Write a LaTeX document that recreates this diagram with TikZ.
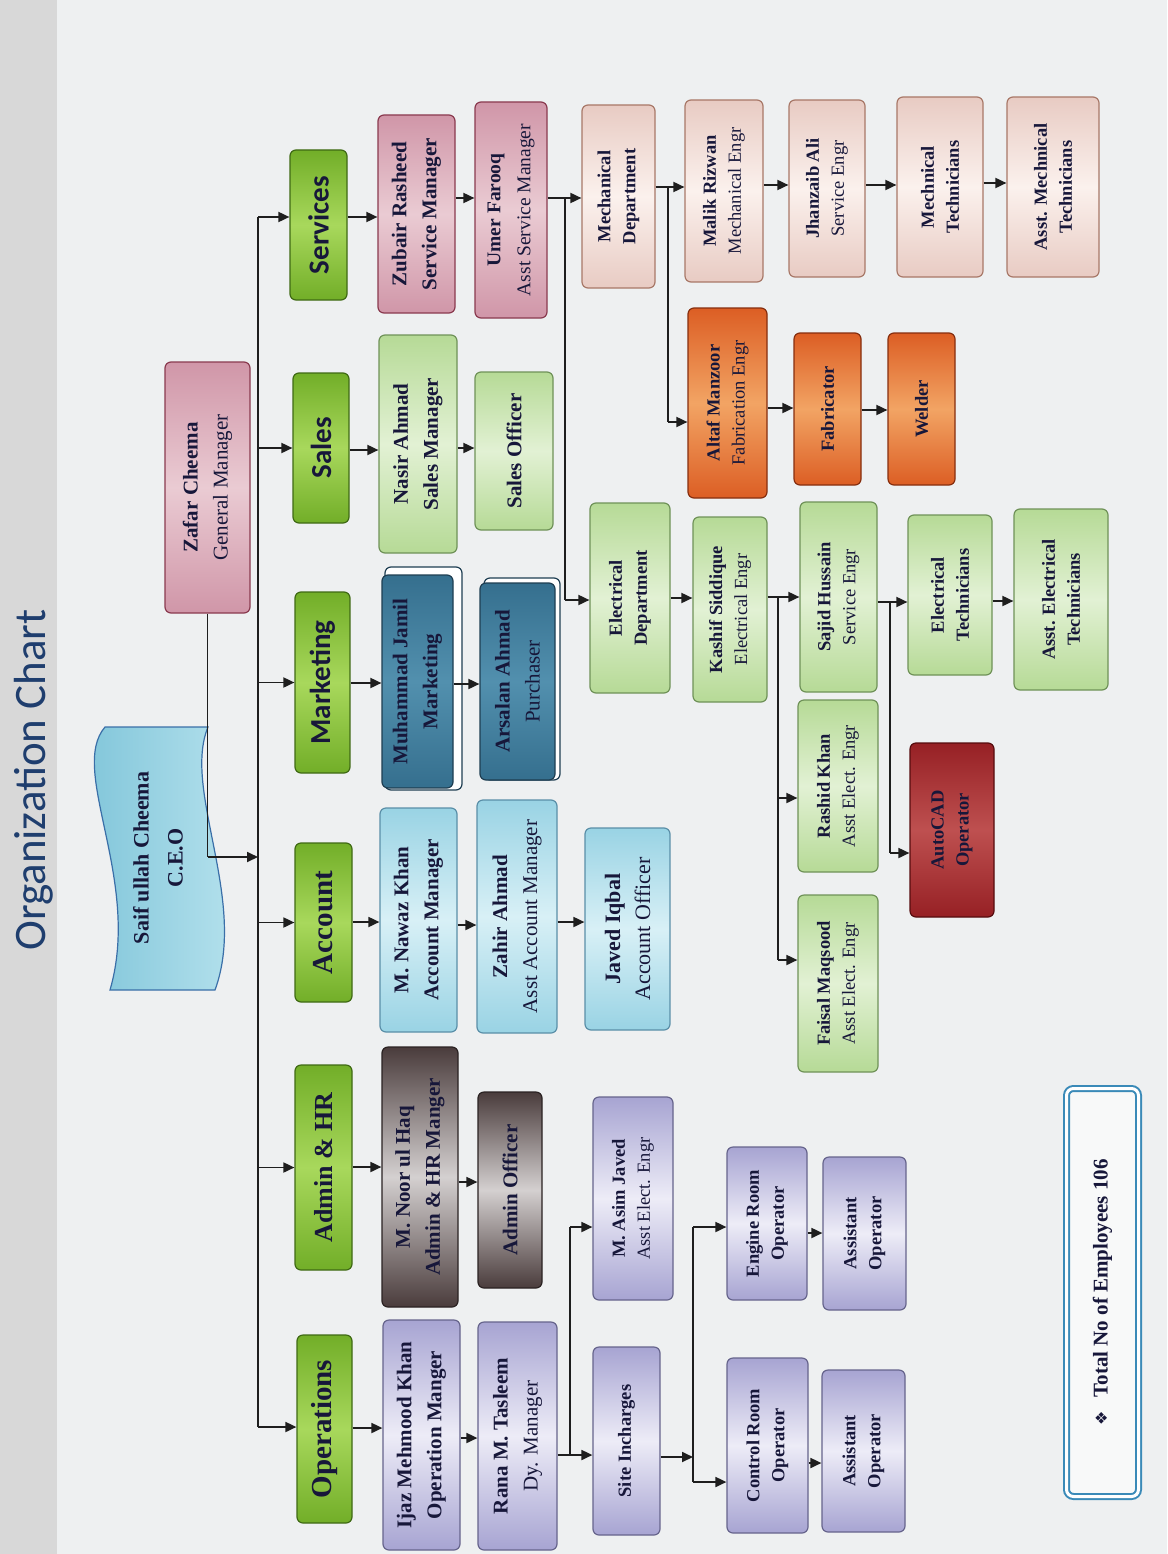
\documentclass[tikz,border=0pt]{standalone}
\usepackage{fontspec}
\setmainfont{Liberation Serif}
\newfontfamily\carl{Carlito}
\newfontfamily\dejav{DejaVu Sans}
\usetikzlibrary{arrows.meta,calc}
\definecolor{txt}{HTML}{17173A}
\definecolor{lineC}{HTML}{1E1E1E}
\definecolor{bgC}{HTML}{EEF0F1}
\definecolor{stripC}{HTML}{D8D8D8}
\definecolor{titleC}{HTML}{1F3E6E}
\definecolor{pinkA}{HTML}{D096A8}\definecolor{pinkB}{HTML}{EACBD3}\definecolor{pinkD}{HTML}{8A3A4F}
\definecolor{gA}{HTML}{72AE28}\definecolor{gB}{HTML}{A8D85C}\definecolor{gD}{HTML}{3F6A14}
\definecolor{lgA}{HTML}{B6DA96}\definecolor{lgB}{HTML}{E2F1D4}\definecolor{lgD}{HTML}{6F9258}
\definecolor{tA}{HTML}{356F8E}\definecolor{tB}{HTML}{5290AE}\definecolor{tD}{HTML}{1E3E52}
\definecolor{lbA}{HTML}{99D3E4}\definecolor{lbB}{HTML}{D8F0F6}\definecolor{lbD}{HTML}{5A8FA8}
\definecolor{mA}{HTML}{4A3C3C}\definecolor{mB}{HTML}{D4D0D0}\definecolor{mD}{HTML}{2A2222}
\definecolor{lvA}{HTML}{A7A4D2}\definecolor{lvB}{HTML}{EDECF7}\definecolor{lvD}{HTML}{66648C}
\definecolor{pA}{HTML}{E8CBC3}\definecolor{pB}{HTML}{FBF1ED}\definecolor{pD}{HTML}{A87868}
\definecolor{oA}{HTML}{DC5E24}\definecolor{oB}{HTML}{F2A464}\definecolor{oD}{HTML}{862E0E}
\definecolor{rA}{HTML}{962024}\definecolor{rB}{HTML}{BE5050}\definecolor{rD}{HTML}{560C0E}
\definecolor{ceoA}{HTML}{7CC3D8}\definecolor{ceoB}{HTML}{B8E3EE}\definecolor{ceoD}{HTML}{3A6FA8}
\definecolor{totC}{HTML}{3A8AB8}
\tikzset{
  box/.style={rotate=90, rounded corners=6pt, align=center, inner sep=1pt, text=txt, line width=1.2pt,
    font=\fontsize{21}{30}\selectfont},
  small/.style={font=\fontsize{18.5}{25}\selectfont},
  pinkS/.style={draw=pinkD, top color=pinkA, bottom color=pinkA, middle color=pinkB},
  deptS/.style={draw=gD, top color=gA, bottom color=gA, middle color=gB},
  lgS/.style={draw=lgD, top color=lgA, bottom color=lgA, middle color=lgB},
  tealS/.style={draw=tD, top color=tA, bottom color=tA, middle color=tB},
  lbS/.style={draw=lbD, top color=lbA, bottom color=lbA, middle color=lbB},
  metS/.style={draw=mD, top color=mA, bottom color=mA, middle color=mB},
  lavS/.style={draw=lvD, top color=lvA, bottom color=lvA, middle color=lvB},
  peachS/.style={draw=pD, top color=pA, bottom color=pA, middle color=pB},
  orS/.style={draw=oD, top color=oA, bottom color=oA, middle color=oB},
  redS/.style={draw=rD, top color=rA, bottom color=rA, middle color=rB},
  sansdept/.style={font=\carl\bfseries\fontsize{29}{32}\selectfont},
  serifdept/.style={font=\bfseries\fontsize{29}{32}\selectfont},
  ln/.style={line width=1.8pt, draw=lineC},
  arr/.style={ln, -{Triangle[length=11pt,width=10pt]}},
}
% name, x1, y1, x2, y2, style, text
\newcommand\bx[7]{%
  \pgfmathsetmacro\bxcx{(#2+#4)/2}\pgfmathsetmacro\bxcy{(#3+#5)/2}%
  \pgfmathsetmacro\bxw{#5-#3}\pgfmathsetmacro\bxh{#4-#2}%
  \node[box,#6,minimum width=\bxw pt,minimum height=\bxh pt] (#1) at (\bxcx,\bxcy) {#7};}
\newcommand\hy[3]{\coordinate (hy) at (0,#3); \draw[arr] (#1.south |- hy) -- (#2.north |- hy);}
\begin{document}
\begin{tikzpicture}[x=1pt,y=-1pt]
\path[use as bounding box, fill=bgC] (0,0) rectangle (1167,1554);
\fill[stripC] (0,0) rectangle (57,1554);
\node[rotate=90, font=\carl\fontsize{45}{50}\selectfont, text=titleC] (title) at (34,780) {Organization Chart};
% CEO
\draw[line width=1.2pt, draw=ceoD, left color=ceoA, right color=ceoB]
  (105,727) -- (208,727) .. controls (182,790) and (248,900) .. (215,990)
  -- (110,990) .. controls (142,880) and (68,770) .. cycle;
\node[rotate=90, align=center, text=txt, font=\bfseries\fontsize{22}{34}\selectfont] (ceo) at (158,858) {Saif ullah Cheema\\C.E.O};
% GM
\bx{gm}{165}{362}{250}{613}{pinkS}{\textbf{Zafar Cheema}\\General Manager}
% departments
\bx{svc}{290}{150}{347}{300}{deptS,sansdept}{Services}
\bx{sal}{293}{373}{349}{523}{deptS,sansdept}{Sales}
\bx{mkt}{295}{592}{350}{773}{deptS,sansdept}{Marketing}
\bx{acc}{295}{843}{352}{1002}{deptS,serifdept}{Account}
\bx{adm}{295}{1065}{352}{1270}{deptS,serifdept,font=\bfseries\fontsize{26}{30}\selectfont}{Admin \& HR}
\bx{ops}{297}{1335}{352}{1523}{deptS,serifdept}{Operations}
% level 2
\bx{zub}{378}{115}{455}{313}{pinkS}{\textbf{Zubair Rasheed}\\\textbf{Service Manager}}
\bx{nas}{379}{335}{457}{553}{lgS}{\textbf{Nasir Ahmad}\\\textbf{Sales Manager}}
\node[box, draw=tD, fill=white, minimum width=223pt, minimum height=77pt] (jamB) at (423.5,678.5) {};
\bx{jam}{382}{575}{453}{788}{tealS}{\textbf{Muhammad Jamil}\\\textbf{Marketing}}
\bx{naw}{380}{808}{457}{1032}{lbS}{\textbf{M. Nawaz Khan}\\\textbf{Account Manager}}
\bx{noo}{382}{1047}{458}{1307}{metS}{\textbf{M. Noor ul Haq}\\\textbf{Admin \& HR Manger}}
\bx{ija}{383}{1320}{460}{1550}{lavS}{\textbf{Ijaz Mehmood Khan}\\\textbf{Operation Manger}}
% level 3
\bx{umf}{475}{102}{547}{318}{pinkS,font=\fontsize{19.5}{30}\selectfont}{\textbf{Umer Farooq}\\Asst Service Manager}
\bx{so}{475}{372}{553}{530}{lgS}{\textbf{Sales Officer}}
\node[box, draw=tD, fill=white, minimum width=202pt, minimum height=76pt] (arsB) at (522,679) {};
\bx{ars}{480}{583}{555}{780}{tealS}{\textbf{Arsalan Ahmad}\\Purchaser}
\bx{zah}{477}{800}{557}{1033}{lbS}{\textbf{Zahir Ahmad}\\Asst Account Manager}
\bx{ao}{478}{1092}{542}{1288}{metS}{\textbf{Admin Officer}}
\bx{ran}{478}{1322}{557}{1550}{lavS}{\textbf{Rana M. Tasleem}\\Dy. Manager}
\bx{jav}{585}{828}{670}{1030}{lbS,font=\fontsize{22}{30}\selectfont}{\textbf{Javed Iqbal}\\Account Officer}
% services chain
\bx{mech}{582}{105}{655}{288}{peachS,small}{\textbf{Mechanical}\\\textbf{Department}}
\bx{elec}{590}{503}{670}{693}{lgS,small}{\textbf{Electrical}\\\textbf{Department}}
\bx{mal}{685}{100}{763}{282}{peachS,small}{\textbf{Malik Rizwan}\\Mechanical Engr}
\bx{alt}{688}{308}{767}{498}{orS,small}{\textbf{Altaf Manzoor}\\Fabrication Engr}
\bx{fab}{794}{333}{861}{485}{orS,small}{\textbf{Fabricator}}
\bx{wel}{888}{333}{955}{485}{orS,small}{\textbf{Welder}}
\bx{jha}{789}{100}{865}{277}{peachS,small}{\textbf{Jhanzaib Ali}\\Service Engr}
\bx{mt}{897}{97}{983}{277}{peachS,small}{\textbf{Mechnical}\\\textbf{Technicians}}
\bx{amt}{1007}{97}{1099}{277}{peachS,small}{\textbf{Asst. Mechnical}\\\textbf{Technicians}}
\bx{kas}{693}{517}{767}{702}{lgS,small}{\textbf{Kashif Siddique}\\Electrical Engr}
\bx{saj}{800}{502}{877}{692}{lgS,small}{\textbf{Sajid Hussain}\\Service Engr}
\bx{ras}{798}{700}{878}{872}{lgS,small}{\textbf{Rashid Khan}\\Asst Elect. Engr}
\bx{fai}{798}{895}{878}{1072}{lgS,small}{\textbf{Faisal Maqsood}\\Asst Elect. Engr}
\bx{et}{908}{515}{992}{675}{lgS,small}{\textbf{Electrical}\\\textbf{Technicians}}
\bx{aet}{1014}{509}{1108}{690}{lgS,small}{\textbf{Asst. Electrical}\\\textbf{Technicians}}
\bx{ac}{910}{743}{994}{917}{redS,small}{\textbf{AutoCAD}\\\textbf{Operator}}
% operations chain
\bx{sit}{593}{1347}{660}{1535}{lavS,small}{\textbf{Site Incharges}}
\bx{asm}{593}{1097}{673}{1300}{lavS,small}{\textbf{M. Asim Javed}\\Asst Elect. Engr}
\bx{eng}{727}{1147}{807}{1300}{lavS,small}{\textbf{Engine Room}\\\textbf{Operator}}
\bx{ctl}{727}{1358}{808}{1533}{lavS,small}{\textbf{Control Room}\\\textbf{Operator}}
\bx{as1}{823}{1157}{906}{1310}{lavS,small}{\textbf{Assistant}\\\textbf{Operator}}
\bx{as2}{822}{1370}{905}{1532}{lavS,small}{\textbf{Assistant}\\\textbf{Operator}}
% total
\node[rotate=90, draw=totC, line width=2pt, double=white, double distance=3pt, rounded corners=7pt,
  fill=white!60!bgC, minimum width=408pt, minimum height=72pt, text=txt,
  font=\bfseries\fontsize{21}{26}\selectfont] (tot) at (1102.5,1292.5) {{\dejav\fontsize{16}{20}\selectfont ❖}\hspace{14pt}Total No of Employees 106};
% ---- connectors ----
\coordinate (tTop) at (258,217);
\coordinate (tBot) at (258,1427);
\coordinate (ceoR) at (207.5,857);
\draw[ln] (gm.west) -- (gm.west |- ceoR);
\draw[arr] (gm.west |- ceoR) -- (tTop |- ceoR);
\draw[ln] (tTop) -- (tBot);
\draw[arr] (tTop) -- (svc.north |- tTop);
\foreach \n in {sal,mkt,acc,adm} {\draw[arr] (tTop |- \n) -- (\n.north);}
\draw[arr] (tBot) -- (ops.north |- tBot);
\hy{svc}{zub}{217}
\hy{sal}{nas}{450}
\hy{mkt}{jam}{683}
\hy{acc}{naw}{922}
\hy{adm}{noo}{1167}
\hy{ops}{ija}{1428}
\hy{zub}{umf}{198}
\hy{nas}{so}{448}
\hy{jam}{ars}{684}
\hy{naw}{zah}{925}
\hy{noo}{ao}{1182}
\hy{ija}{ran}{1438}
\hy{zah}{jav}{922}
\hy{umf}{mech}{198}
\coordinate (b1) at (565,198); \coordinate (b1e) at (565,600);
\draw[ln] (b1) -- (b1e); \draw[arr] (b1e) -- (elec.north |- b1e);
\hy{mech}{mal}{187}
\coordinate (b2) at (668,187); \coordinate (b2e) at (668,422);
\draw[ln] (b2) -- (b2e); \draw[arr] (b2e) -- (alt.north |- b2e);
\hy{mal}{jha}{185}
\hy{jha}{mt}{185}
\hy{mt}{amt}{183}
\hy{alt}{fab}{408}
\hy{fab}{wel}{410}
\hy{elec}{kas}{598}
\hy{kas}{saj}{597}
\coordinate (b3) at (778,597); \coordinate (b3r) at (778,798); \coordinate (b3e) at (778,960);
\draw[ln] (b3) -- (b3e);
\draw[arr] (b3r) -- (ras.north |- b3r);
\draw[arr] (b3e) -- (fai.north |- b3e);
\hy{saj}{et}{602}
\coordinate (b4) at (890,602); \coordinate (b4e) at (890,853);
\draw[ln] (b4) -- (b4e); \draw[arr] (b4e) -- (ac.north |- b4e);
\hy{et}{aet}{601}
\hy{ran}{sit}{1455}
\coordinate (b5) at (570,1455); \coordinate (b5e) at (570,1227);
\draw[ln] (b5) -- (b5e); \draw[arr] (b5e) -- (asm.north |- b5e);
\coordinate (b6) at (693,1227); \coordinate (b6e) at (693,1482); \coordinate (b6m) at (693,1457);
\draw[arr] (sit.south |- b6m) -- (b6m);
\draw[ln] (b6) -- (b6e);
\draw[arr] (b6) -- (eng.north |- b6);
\draw[arr] (b6e) -- (ctl.north |- b6e);
\hy{eng}{as1}{1233}
\hy{ctl}{as2}{1463}
\end{tikzpicture}
\end{document}
